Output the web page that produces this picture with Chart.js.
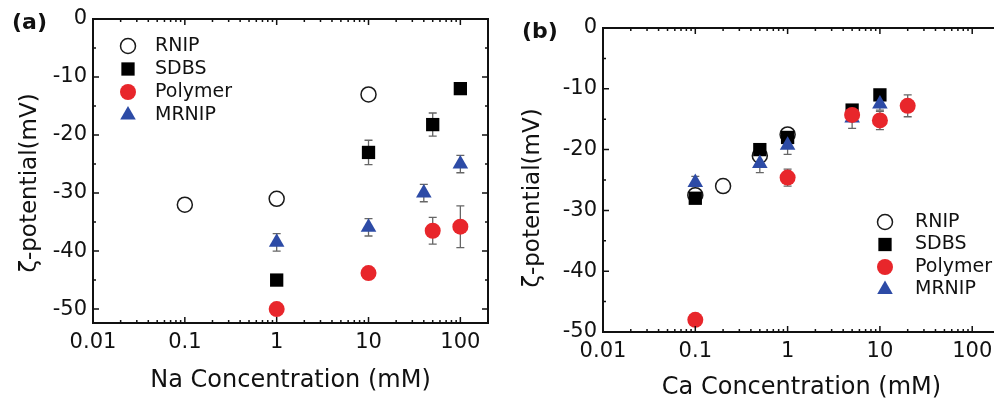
<!DOCTYPE html>
<html>
<head>
<meta charset="utf-8">
<script src="https://cdn.jsdelivr.net/npm/chart.js@4.4.1/dist/chart.umd.min.js"></script>
<style>
  html, body { margin: 0; padding: 0; background: #fff; overflow: hidden; width: 994px; height: 405px; }
  #wrapA { position: absolute; left: 0; top: 0; width: 500px; height: 405px; }
  #wrapB { position: absolute; left: 500px; top: 0; width: 512px; height: 405px; }
</style>
</head>
<body>
<div id="wrapA"><canvas id="naChart" width="500" height="405"></canvas></div>
<div id="wrapB"><canvas id="caChart" width="512" height="405"></canvas></div>
<script>
/* ---- data ---- */
const xTickValues = [0.01, 0.1, 1, 10, 100];
const xTickLabels = ["0.01", "0.1", "1", "10", "100"];
const yTickValues = [-50, -40, -30, -20, -10, 0];
const seriesNames = ["RNIP", "SDBS", "Polymer", "MRNIP"];

/* (a) Na */
const naRnipConc = [0.1, 1, 10];
const naRnipZeta = [-32, -31, -13];
const naSdbsConc = [1, 10, 50, 100];
const naSdbsZeta = [-45, -23, -18.2, -12];
const naSdbsErr  = [0, 2.1, 2, 0];
const naPolyConc = [1, 10, 50, 100];
const naPolyZeta = [-50, -43.8, -36.5, -35.8];
const naPolyErr  = [0, 0, 2.3, 3.6];
const naMrnipConc = [1, 10, 40, 100];
const naMrnipZeta = [-38.5, -35.9, -30, -25];
const naMrnipErr  = [1.5, 1.5, 1.5, 1.5];

/* (b) Ca */
const caRnipConc = [0.1, 0.2, 0.5, 1];
const caRnipZeta = [-27.5, -26, -21, -17.5];
const caSdbsConc = [0.1, 0.5, 1, 5, 10];
const caSdbsZeta = [-28, -20, -18, -13.5, -11];
const caPolyConc = [0.1, 1, 5, 10, 20];
const caPolyZeta = [-48, -24.6, -14.3, -15.2, -12.8];
const caPolyErr  = [0, 1.4, 1, 1.5, 1.8];
const caMrnipConc = [0.1, 0.5, 1, 5, 10];
const caMrnipZeta = [-25.4, -22.3, -19.3, -14.8, -12.5];
const caMrnipErr  = [1, 1.5, 1.5, 1.7, 1];

const FONT = '"DejaVu Sans", Verdana, sans-serif';
Chart.defaults.font.family = FONT;
Chart.defaults.color = "#111";

const RED = "#e8262b";
const BLUE = "#2d4ba6";
const markers = {
  RNIP:    { pointStyle: "circle",   radius: 7.5, bg: "#fff", border: "#1a1a1a", bw: 1.5 },
  SDBS:    { pointStyle: "rect",     radius: 9.4, bg: "#000", border: "#000",    bw: 0 },
  Polymer: { pointStyle: "circle",   radius: 8,   bg: RED,    border: RED,       bw: 0 },
  MRNIP:   { pointStyle: "triangle", radius: 9,   bg: BLUE,   border: BLUE,      bw: 0 }
};
// draw order: RNIP at the back, Polymer on top
const drawOrder = { RNIP: 4, SDBS: 3, MRNIP: 2, Polymer: 1 };

function series(name, xs, ys, errs) {
  const m = markers[name];
  return {
    label: name,
    data: xs.map((x, i) => ({ x: x, y: ys[i] })),
    errors: errs || null,
    order: drawOrder[name],
    pointStyle: m.pointStyle,
    pointRadius: m.radius,
    pointHoverRadius: m.radius,
    pointBackgroundColor: m.bg,
    pointBorderColor: m.border,
    pointBorderWidth: m.bw,
    showLine: false
  };
}

/* vertical error bars, drawn behind the markers */
const errorBars = {
  id: "errorBars",
  beforeDatasetsDraw(chart) {
    const { ctx, scales: { x, y } } = chart;
    ctx.save();
    ctx.strokeStyle = "#666";
    ctx.lineWidth = 1.3;
    chart.data.datasets.forEach(ds => {
      if (!ds.errors) return;
      ds.data.forEach((p, i) => {
        const e = ds.errors[i];
        if (!e) return;
        const px = x.getPixelForValue(p.x);
        const top = y.getPixelForValue(p.y + e);
        const bot = y.getPixelForValue(p.y - e);
        ctx.beginPath();
        ctx.moveTo(px, top); ctx.lineTo(px, bot);
        ctx.moveTo(px - 4, top); ctx.lineTo(px + 4, top);
        ctx.moveTo(px - 4, bot); ctx.lineTo(px + 4, bot);
        ctx.stroke();
      });
    });
    ctx.restore();
  }
};

/* closed frame with inward ticks on all four sides */
const frame = {
  id: "frame",
  afterDraw(chart) {
    const { ctx, chartArea: a, scales: { x, y } } = chart;
    ctx.save();
    ctx.strokeStyle = "#111";
    ctx.lineWidth = 2;
    ctx.strokeRect(a.left, a.top, a.right - a.left, a.bottom - a.top);
    ctx.lineWidth = 1.5;
    ctx.beginPath();
    for (let d = -2; d <= 3; d++) {
      for (let m = 1; m <= 9; m++) {
        const v = m * Math.pow(10, d);
        if (v < x.min || v > x.max) continue;
        const px = x.getPixelForValue(v);
        const len = m === 1 ? 6 : 3;
        ctx.moveTo(px, a.bottom); ctx.lineTo(px, a.bottom - len);
        ctx.moveTo(px, a.top); ctx.lineTo(px, a.top + len);
      }
    }
    yTickValues.forEach(v => {
      [v, v - 5].forEach((t, k) => {
        if (t < y.min || t > y.max) return;
        const py = y.getPixelForValue(t);
        const len = k === 0 ? 6 : 3;
        ctx.moveTo(a.left, py); ctx.lineTo(a.left + len, py);
        ctx.moveTo(a.right, py); ctx.lineTo(a.right - len, py);
      });
    });
    ctx.stroke();
    ctx.restore();
  }
};

/* panel tag, rotated y title and the legend inside the frame */
const extras = {
  id: "extras",
  afterDraw(chart, args, o) {
    const ctx = chart.ctx;
    ctx.save();
    ctx.fillStyle = "#111";
    ctx.textBaseline = "middle";
    ctx.font = "bold 22px " + FONT;
    ctx.textAlign = "left";
    ctx.fillText(o.tag, o.tagX, o.tagY);

    ctx.save();
    ctx.translate(o.yTitleX, o.yTitleY);
    ctx.rotate(-Math.PI / 2);
    ctx.textAlign = "center";
    ctx.font = "23px " + FONT;
    ctx.fillText("\u03B6-potential(mV)", 0, 0);
    ctx.restore();

    ctx.font = "19px " + FONT;
    seriesNames.forEach((name, i) => {
      const m = markers[name];
      const cy = o.legendY + i * o.legendGap;
      ctx.fillStyle = m.bg;
      ctx.strokeStyle = m.border;
      ctx.lineWidth = m.bw;
      Chart.helpers.drawPoint(ctx, { pointStyle: m.pointStyle, radius: m.radius, rotation: 0, borderWidth: m.bw }, o.legendX, cy);
      ctx.fillStyle = "#111";
      ctx.fillText(name, o.legendX + o.legendText, cy);
    });
    ctx.restore();
  }
};

function makeChart(id, datasets, opt) {
  return new Chart(document.getElementById(id), {
    type: "scatter",
    data: { datasets: datasets },
    plugins: [errorBars, frame, extras],
    options: {
      responsive: false,
      animation: false,
      layout: { padding: { left: 0, right: opt.padRight, top: opt.padTop, bottom: 0 } },
      plugins: {
        legend: { display: false },
        tooltip: { enabled: false },
        extras: opt.extras
      },
      scales: {
        x: {
          type: "logarithmic",
          min: 0.01,
          max: 200,
          grid: { display: false, drawTicks: false },
          border: { display: false },
          afterBuildTicks: s => { s.ticks = xTickValues.map(v => ({ value: v })); },
          afterFit: s => { s.height = opt.xAxisHeight; },
          ticks: {
            autoSkip: false,
            maxRotation: 0,
            padding: 7,
            font: { size: 21 },
            callback: (v, i) => xTickLabels[i]
          },
          title: {
            display: true,
            text: opt.xTitle,
            font: { size: 24 },
            padding: { top: 0, bottom: opt.xTitlePad }
          }
        },
        y: {
          min: opt.yMin,
          max: 0,
          grid: { display: false, drawTicks: false },
          border: { display: false },
          afterBuildTicks: s => { s.ticks = yTickValues.map(v => ({ value: v })); },
          afterFit: s => { s.width = opt.yAxisWidth; },
          ticks: {
            padding: 6,
            font: { size: 21 },
            callback: v => String(v)
          }
        }
      }
    }
  });
}

makeChart("naChart", [
  series("RNIP", naRnipConc, naRnipZeta),
  series("SDBS", naSdbsConc, naSdbsZeta, naSdbsErr),
  series("Polymer", naPolyConc, naPolyZeta, naPolyErr),
  series("MRNIP", naMrnipConc, naMrnipZeta, naMrnipErr)
], {
  padRight: 12, padTop: 19, xAxisHeight: 82, yAxisWidth: 93, yMin: -52.4,
  xTitle: "Na Concentration (mM)", xTitlePad: 10,
  extras: { tag: "(a)", tagX: 12, tagY: 23, yTitleX: 30, yTitleY: 183,
            legendX: 128, legendY: 46, legendGap: 23, legendText: 27 }
});

makeChart("caChart", [
  series("RNIP", caRnipConc, caRnipZeta),
  series("SDBS", caSdbsConc, caSdbsZeta),
  series("Polymer", caPolyConc, caPolyZeta, caPolyErr),
  series("MRNIP", caMrnipConc, caMrnipZeta, caMrnipErr)
], {
  padRight: 12, padTop: 28, xAxisHeight: 73, yAxisWidth: 103, yMin: -50,
  xTitle: "Ca Concentration (mM)", xTitlePad: 3,
  extras: { tag: "(b)", tagX: 22, tagY: 32, yTitleX: 33, yTitleY: 198,
            legendX: 385, legendY: 222, legendGap: 22.5, legendText: 30 }
});
</script>
</body>
</html>
